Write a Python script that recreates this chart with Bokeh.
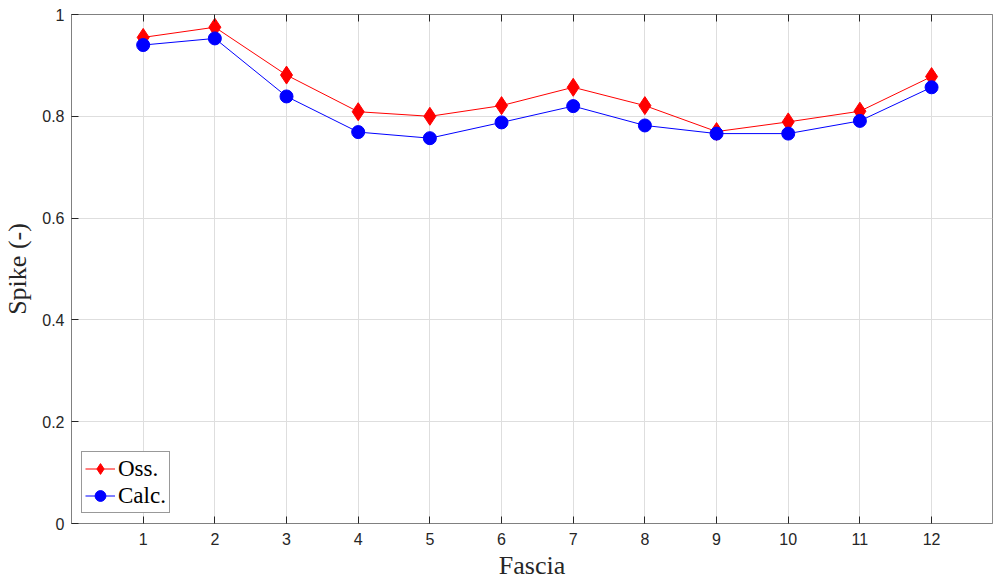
from bokeh.plotting import figure
from bokeh.models import LinearAxis, FixedTicker, Legend, LegendItem, Range1d
from bokeh.embed import file_html
from bokeh.resources import INLINE

fascia = [1, 2, 3, 4, 5, 6, 7, 8, 9, 10, 11, 12]
oss = [0.955, 0.975, 0.881, 0.809, 0.800, 0.821, 0.857, 0.821, 0.770, 0.789, 0.810, 0.878]
calc = [0.940, 0.953, 0.839, 0.769, 0.757, 0.788, 0.820, 0.782, 0.766, 0.766, 0.791, 0.857]
x_ticks = list(range(1, 13))
y_ticks = [0, 0.2, 0.4, 0.6, 0.8, 1.0]

p = figure(width=993, height=583, output_backend="svg", toolbar_location=None,
           x_range=Range1d(0, 12.85), y_range=Range1d(0, 1),
           min_border_left=71, min_border_right=1, min_border_top=14, min_border_bottom=60)
p.background_fill_color = "white"
p.border_fill_color = "white"
p.outline_line_color = "#8c8c8c"
p.outline_line_width = 1

axis_color = "#808080"
tick_font = "Liberation Sans"
for ax in (p.xaxis[0], p.yaxis[0]):
    ax.axis_line_color = axis_color
    ax.major_tick_in = 7
    ax.major_tick_out = 0
    ax.minor_tick_in = 0
    ax.minor_tick_out = 0
    ax.major_tick_line_color = "#262626"
    ax.major_label_text_font = tick_font
    ax.major_label_text_font_size = "16px"
    ax.major_label_text_color = "#262626"
    ax.axis_label_text_font = "Liberation Serif"
    ax.axis_label_text_font_size = "26px"
    ax.axis_label_text_font_style = "normal"
    ax.axis_label_text_color = "#262626"

p.xaxis[0].ticker = FixedTicker(ticks=x_ticks)
p.yaxis[0].ticker = FixedTicker(ticks=y_ticks)
p.xaxis[0].axis_label = "Fascia"
p.yaxis[0].axis_label = "Spike (-)"
p.xaxis[0].major_label_standoff = 9
p.yaxis[0].major_label_standoff = 7
p.xaxis[0].axis_label_standoff = 3
p.yaxis[0].axis_label_standoff = 7
p.yaxis[0].major_label_overrides = {0: "0", 1.0: "1"}

top = LinearAxis(ticker=FixedTicker(ticks=x_ticks), axis_line_color=axis_color,
                 major_tick_in=7, major_tick_out=0, minor_tick_in=0, minor_tick_out=0,
                 major_tick_line_color="#262626", major_label_text_font_size="15px",
                 major_label_overrides={t: "" for t in x_ticks},
                 major_label_standoff=0)
p.add_layout(top, "above")

p.xgrid.ticker = FixedTicker(ticks=x_ticks)
p.ygrid.ticker = FixedTicker(ticks=y_ticks)
for g in (p.xgrid[0], p.ygrid[0]):
    g.grid_line_color = "#dedede"
    g.grid_line_width = 1

r1 = p.line(fascia, oss, line_color="red", line_width=1)
m1 = p.scatter(fascia, oss, marker="diamond", size=18, fill_color="red", line_color="red")
r2 = p.line(fascia, calc, line_color="blue", line_width=1)
m2 = p.scatter(fascia, calc, marker="circle", size=13, fill_color="blue", line_color="blue")

legend = Legend(items=[LegendItem(label="Oss.", renderers=[r1, m1]),
                       LegendItem(label="Calc.", renderers=[r2, m2])],
                location="bottom_left")
legend.margin = 10
legend.padding = 3
legend.spacing = 0
legend.glyph_width = 30
legend.glyph_height = 27
legend.label_standoff = 3
legend.label_text_font = "Liberation Serif"
legend.label_text_font_size = "23px"
legend.label_text_color = "black"
legend.border_line_color = "#333333"
legend.border_line_width = 1
legend.background_fill_color = "white"
legend.background_fill_alpha = 1
p.add_layout(legend, "center")

open("out.html", "w").write(file_html(p, INLINE))
